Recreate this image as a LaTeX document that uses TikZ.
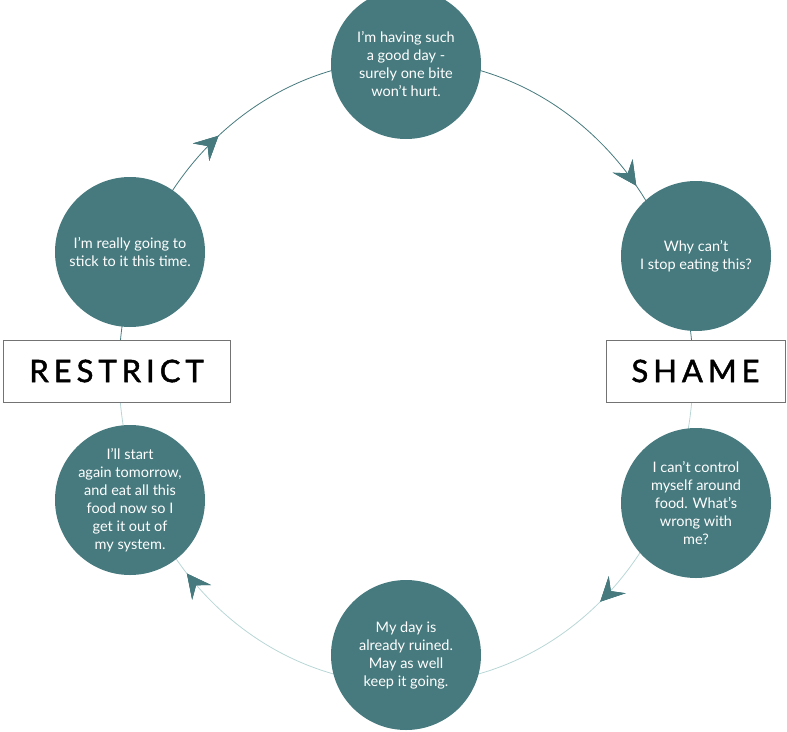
\documentclass[tikz,border=0pt]{standalone}
\usepackage{fontspec}
\setmainfont{Lato}
\usetikzlibrary{arrows.meta,decorations.markings}
\definecolor{teal1}{HTML}{477A7E}
\definecolor{ringlight}{HTML}{B9D6D6}
\tikzset{
  thought/.style={circle,fill=teal1,minimum size=150pt,inner sep=-20pt,text=white,
    align=center,font=\fontsize{14.5}{18}\selectfont},
  stagebox/.style={draw=black!55,fill=white,line width=0.8pt,minimum height=62pt,
    font=\fontsize{31}{31}\selectfont\addfontfeatures{LetterSpace=16,FakeBold=1.5}},
  ringarrow/.style={postaction={decorate},decoration={markings,
    mark=at position #1 with {\arrow{Stealth[length=24pt,width=24pt,inset=9pt,teal1]}}}}
}
\begin{document}
\begin{tikzpicture}[x=1pt,y=-1pt]
  \useasboundingbox (0,0) rectangle (787,731);
  % the cycle
  \draw[teal1,line width=0.8pt,ringarrow=0.28,ringarrow=0.79]
    (119,372) arc[start angle=180,end angle=360,x radius=287,y radius=312];
  \draw[ringlight,line width=0.8pt,ringarrow=0.27,ringarrow=0.77]
    (693,372) arc[start angle=0,end angle=180,x radius=287,y radius=312];
  % thoughts
  \node[thought] (good)    at (406,64)  {I'm having such\\a good day -\\surely one bite\\won't hurt.};
  \node[thought] (why)     at (696,256) {Why can't\\I stop eating this?};
  \node[thought] (control) at (696,503) {I can't control\\myself around\\food. What's\\wrong with\\me?};
  \node[thought] (ruined)  at (406,655) {My day is\\already ruined.\\May as well\\keep it going.};
  \node[thought] (tomorrow) at (130,500) {I'll start\\again tomorrow,\\and eat all this\\food now so I\\get it out of\\my system.};
  \node[thought] (stick)   at (130,252) {I'm really going to\\stick to it this time.};
  % stages
  \node[stagebox,minimum width=227pt] (restrict) at (116.5,371) {RESTRICT};
  \node[stagebox,minimum width=179pt] (shame)    at (695.5,371) {SHAME};
\end{tikzpicture}
\end{document}
